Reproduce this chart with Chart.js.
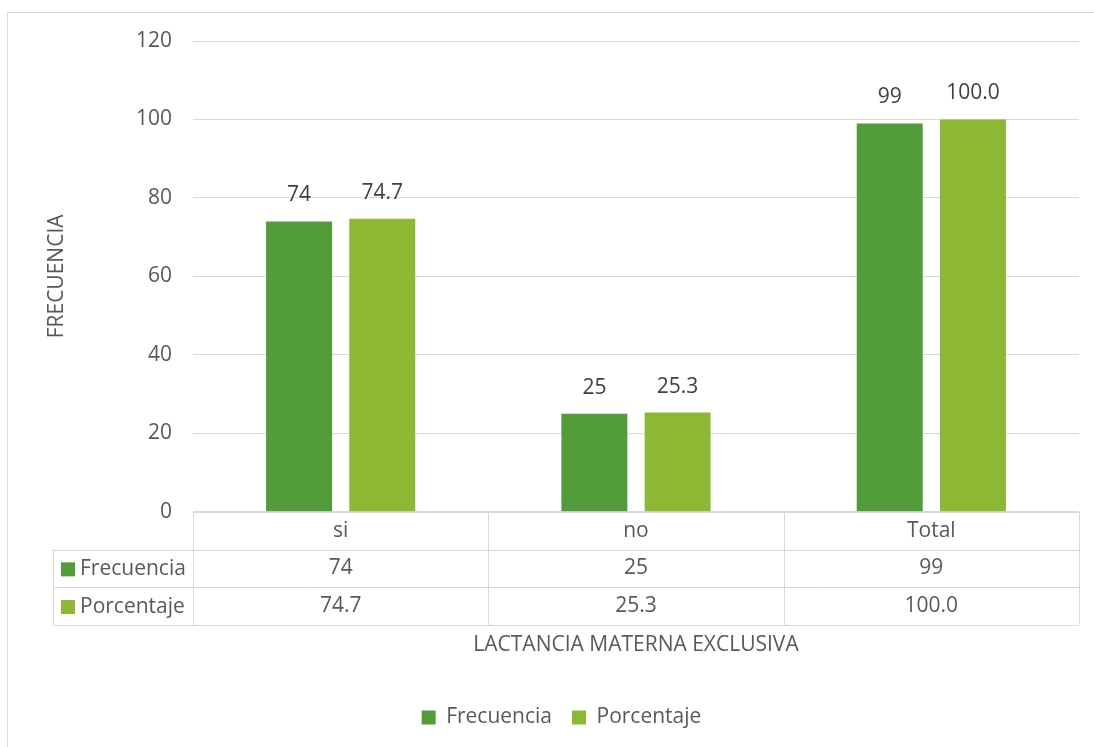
<!DOCTYPE html>
<html><head><meta charset="utf-8">
<script src="https://cdn.jsdelivr.net/npm/chart.js@4.4.0/dist/chart.umd.min.js"></script>
<style>html,body{margin:0;padding:0;background:#fff}#wrap{width:1094px;height:747px;position:relative}</style>
</head><body><div id="wrap"><canvas id="c" width="1094" height="747"></canvas></div>
<script>
const categories = ['si', 'no', 'Total'];
const seriesNames = ['Frecuencia', 'Porcentaje'];
const frecuencia = [74, 25, 99];
const porcentaje = [74.7, 25.3, 100.0];
const yMin = 0, yMax = 120, yStep = 20;
const colors = ['#529D3A', '#8CB833'];
const FONT = '"Open Sans", sans-serif';
const FS = 21;
const TXT = '#595959';

function fmt(ds, v){ return ds === 1 ? v.toFixed(1) : String(v); }

const extras = {
  id: 'extras',
  beforeDraw(chart){
    const ctx = chart.ctx;
    ctx.save();
    ctx.fillStyle = '#fff';
    ctx.fillRect(0,0,chart.width,chart.height);
    ctx.strokeStyle = '#d9d9d9';
    ctx.lineWidth = 1;
    ctx.strokeRect(7.5, 12.5, 1200, 800);
    ctx.restore();
  },
  afterDraw(chart){
    const ctx = chart.ctx;
    const a = chart.chartArea;
    const xs = chart.scales.x;
    const colW = (a.right - a.left) / categories.length;
    const rowH = 37.7;
    const top = a.bottom;
    const leftCol = 53;
    ctx.save();
    ctx.strokeStyle = '#d9d9d9';
    ctx.lineWidth = 1;
    const hl = (x1, x2, y) => { ctx.beginPath(); ctx.moveTo(x1, Math.round(y)+0.5); ctx.lineTo(x2, Math.round(y)+0.5); ctx.stroke(); };
    const vl = (x, y1, y2) => { ctx.beginPath(); ctx.moveTo(Math.round(x)+0.5, y1); ctx.lineTo(Math.round(x)+0.5, y2); ctx.stroke(); };
    hl(a.left, a.right, top);
    for (let r = 1; r <= 3; r++) hl(leftCol, a.right, top + r*rowH);
    vl(leftCol, top + rowH, top + 3*rowH);
    for (let i = 0; i <= categories.length; i++) vl(a.left + i*colW, top, top + 3*rowH);
    ctx.font = FS + 'px ' + FONT;
    ctx.fillStyle = TXT;
    ctx.textAlign = 'center';
    ctx.textBaseline = 'middle';
    categories.forEach((c, i) => {
      const cx = xs.getPixelForValue(i);
      ctx.fillText(c, cx, top + rowH*0.5);
      ctx.fillText(fmt(0, frecuencia[i]), cx, top + rowH*1.5);
      ctx.fillText(fmt(1, porcentaje[i]), cx, top + rowH*2.5);
    });
    seriesNames.forEach((n, s) => {
      const cy = top + rowH*(1.5 + s);
      ctx.fillStyle = colors[s];
      ctx.fillRect(61, cy - 6, 14, 14);
      ctx.fillStyle = TXT;
      ctx.textAlign = 'left';
      ctx.fillText(n, 80, cy + 1);
    });
    ctx.fillStyle = '#404040';
    ctx.textAlign = 'center';
    chart.data.datasets.forEach((ds, di) => {
      chart.getDatasetMeta(di).data.forEach((bar, j) => {
        ctx.fillText(fmt(di, ds.data[j]), bar.x, bar.y - 26);
      });
    });
    ctx.restore();
  }
};

new Chart(document.getElementById('c'), {
  type: 'bar',
  data: {
    labels: categories,
    datasets: [
      { label: seriesNames[0], data: frecuencia, backgroundColor: colors[0] },
      { label: seriesNames[1], data: porcentaje, backgroundColor: colors[1] }
    ]
  },
  options: {
    responsive: false,
    animation: false,
    devicePixelRatio: 1,
    layout: { padding: { left: 44, right: 15, top: 41, bottom: 9 } },
    datasets: { bar: { categoryPercentage: 0.5635, barPercentage: 0.793 } },
    plugins: {
      legend: {
        position: 'bottom',
        labels: { boxWidth: 14, boxHeight: 14, font: { size: FS, family: FONT }, color: TXT, padding: 20 }
      },
      tooltip: { enabled: false }
    },
    scales: {
      x: {
        grid: { display: false, drawTicks: false },
        border: { display: false },
        ticks: { display: false },
        title: { display: true, text: 'LACTANCIA MATERNA EXCLUSIVA', color: TXT, font: { size: FS, family: FONT }, padding: { top: 121, bottom: 29 } }
      },
      y: {
        min: yMin, max: yMax,
        ticks: { stepSize: yStep, color: TXT, font: { size: FS, family: FONT }, padding: 21 },
        grid: { color: '#d9d9d9', drawTicks: false },
        border: { display: false },
        title: { display: true, text: 'FRECUENCIA', color: TXT, font: { size: FS, family: FONT }, padding: 0 },
        afterFit(s){ s.width = 149; }
      }
    }
  },
  plugins: [extras]
});
</script></body></html>
